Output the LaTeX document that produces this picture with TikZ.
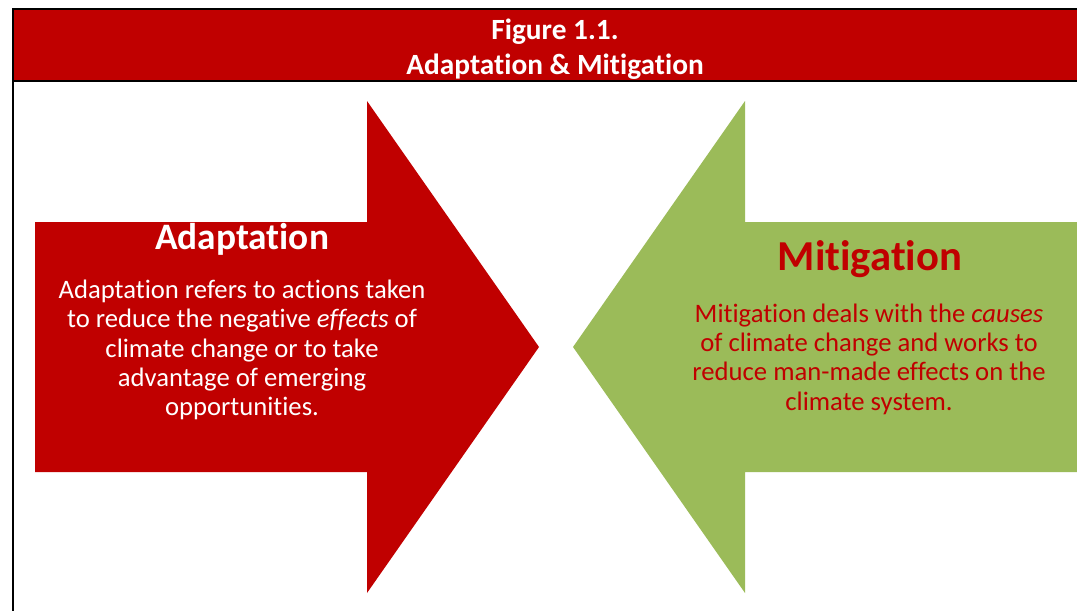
\documentclass[tikz,border=0pt]{standalone}
\usepackage{fontspec}
\setmainfont{Carlito}[Ligatures=NoCommon]
\usepackage{tikz}
\usepackage{xcolor}

\definecolor{figred}{HTML}{C00000}
\definecolor{figgreen}{HTML}{9BBB59}

\begin{document}
\begin{tikzpicture}[x=0.75pt,y=0.75pt,yscale=-1,xscale=1]
\useasboundingbox (0,0) rectangle (1077,610);

%Shape: Rectangle [id:header]
\draw [fill=figred, line width=1.5pt]  (13,9) -- (1080,9) -- (1080,81) -- (13,81) -- cycle ;
%Straight Lines [id:leftframe]
\draw [line width=1.5pt]  (13,81) -- (13,612) ;

%Shape: Right Arrow [id:adaptarrow]
\fill [figred]  (35,222) -- (367,222) -- (367,101) -- (539,347) -- (367,593) -- (367,472) -- (35,472) -- cycle ;
%Shape: Left Arrow [id:mitigarrow]
\fill [figgreen]  (1077,222) -- (745,222) -- (745,101) -- (573,347) -- (745,593) -- (745,472) -- (1077,472) -- cycle ;

% Text Node
\draw (555,49.5) node (figtitle) [inner sep=0.75pt] [align=center, text=white, font=\fontsize{22}{26.25}\selectfont\bfseries] {Figure 1.1.\\Adaptation \& Mitigation};
% Text Node
\draw (242,249) node (adapttitle) [anchor=base][inner sep=0.75pt] [text=white] {\fontsize{28}{34}\selectfont\bfseries Adaptation};
% Text Node
\draw (242,350) node (adapttext) [inner sep=0.75pt] [align=center, text=white, font=\fontsize{20}{22}\selectfont] {Adaptation refers to actions taken\\to reduce the negative \textit{effects} of\\climate change or to take\\advantage of emerging\\opportunities.};
% Text Node
\draw (870,270) node (mitigtitle) [anchor=base][inner sep=0.75pt] [text=figred] {\fontsize{32}{38}\selectfont\bfseries Mitigation};
% Text Node
\draw (869,359) node (mitigtext) [inner sep=0.75pt] [align=center, text=figred, font=\fontsize{20}{22}\selectfont] {Mitigation deals with the \textit{causes}\\of climate change and works to\\reduce man-made effects on the\\climate system.};

\end{tikzpicture}
\end{document}
